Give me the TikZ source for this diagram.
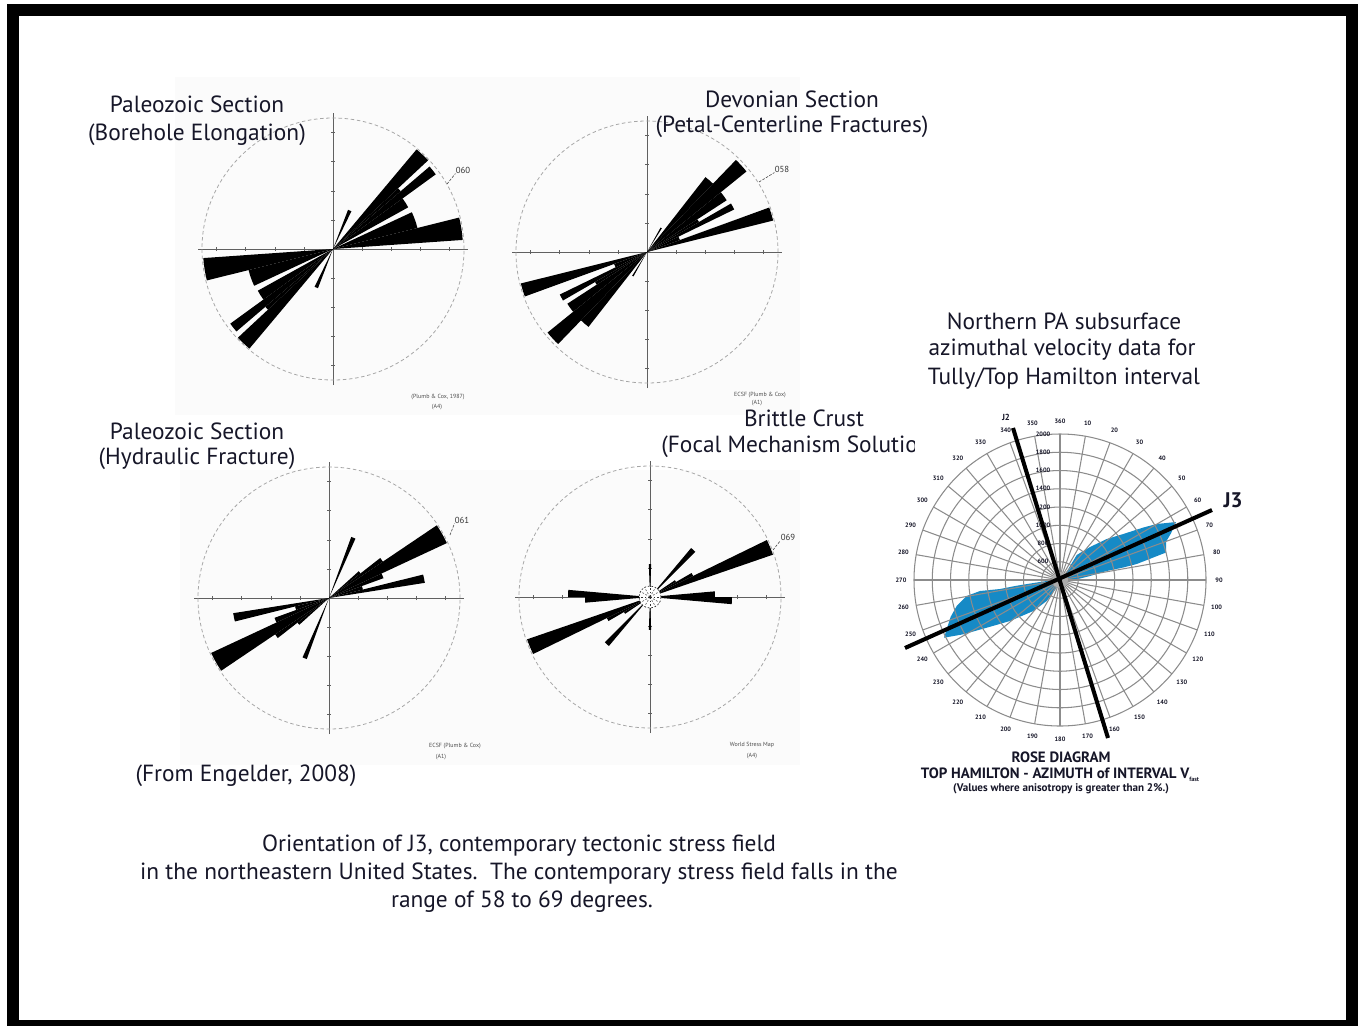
\documentclass[tikz,border=0pt]{standalone}
\usepackage{fontspec}
\setmainfont{PT Sans}
\definecolor{titlec}{RGB}{22,22,40}
\definecolor{lobec}{RGB}{22,138,198}
\definecolor{bgc}{RGB}{251,251,251}
\newcommand\petal[3]{%
  \fill[black] (0,0) -- (#1:#3) arc[start angle=#1,end angle=#2,radius=#3] -- cycle;
  \fill[black] (0,0) -- ({#1+180}:#3) arc[start angle={#1+180},end angle={#2+180},radius=#3] -- cycle;}
\newcommand\rosebase[1]{%
  \draw[roseaxis] ({-#1-4},0) -- ({#1+4},0);
  \draw[roseaxis] (0,{-#1-5}) -- (0,{#1+5});
  \foreach \k in {1,2,3,4}{%
    \draw[roseaxis] ({\k*0.222*#1},-2) -- ({\k*0.222*#1},2);
    \draw[roseaxis] ({-\k*0.222*#1},-2) -- ({-\k*0.222*#1},2);
    \draw[roseaxis] (-2,{\k*0.222*#1}) -- (2,{\k*0.222*#1});
    \draw[roseaxis] (-2,{-\k*0.222*#1}) -- (2,{-\k*0.222*#1});}
  \draw[rosering] (0,0) circle[radius=#1];}
\begin{document}
\begin{tikzpicture}[x=0.02cm,y=-0.02cm,
  title/.style={font=\fontsize{13.3}{15}\selectfont, text=titlec, inner sep=0pt, align=center},
  credit/.style={font=\fontsize{3.4}{4}\selectfont, text=gray!60!black, inner sep=0pt},
  degl/.style={font=\fontsize{5}{6}\selectfont, text=gray!40!black, inner sep=0pt},
  roseaxis/.style={draw=gray!75!black, line width=0.35pt},
  rosering/.style={draw=gray!70, line width=0.45pt, dash pattern=on 2pt off 1.5pt},
  leader/.style={draw=gray!60!black, line width=0.35pt, dash pattern=on 1.5pt off 0.8pt},
  gridl/.style={draw=black!45, line width=0.6pt},
  azl/.style={font=\fontsize{3.6}{4}\bfseries\selectfont, text=titlec, inner sep=0pt},
  jline/.style={draw=black, line width=2.3pt},
  rdl/.style={font=\fontsize{8.5}{10}\bfseries\selectfont, text=titlec, inner sep=0pt}]
\useasboundingbox (0,0) rectangle (1362,1025);
\fill[white] (0,0) rectangle (1362,1025);
% faint image backgrounds
\fill[bgc] (175,77) rectangle (480,415);
\fill[bgc] (480,77) rectangle (800,415);
\fill[bgc] (180,470) rectangle (800,765);
% frame
\draw[line width=0.24cm] (13,10) rectangle (1352,1026);

% ---------- rose 1 (top left)
\begin{scope}[shift={(333,249)},yscale=-1]
  \rosebase{131}
  \petal{4}{14}{130}
  \petal{14}{25}{87}
  \petal{29}{36}{86}
  \petal{36}{40.5}{127}
  \petal{40.5}{43}{89}
  \petal{43}{50}{130}
  \petal{64}{69}{42}
\end{scope}
\node[degl] (l060) at (463,170) {060};
\coordinate (t060) at (447,184);
\draw[leader] (t060) -- (l060.south west);

% ---------- rose 2 (top right)
\begin{scope}[shift={(647,252)},yscale=-1]
  \rosebase{131}
  \petal{14}{20}{130}
  \petal{20}{26}{35}
  \petal{26}{30}{97}
  \petal{30}{33}{60}
  \petal{33}{39}{95}
  \petal{39}{46}{128}
  \petal{46}{52}{95}
  \petal{58}{61}{28}
\end{scope}
\node[degl] (l058) at (782,169) {058};
\coordinate (t058) at (759,182);
\draw[leader] (t058) -- (l058.south west);

% ---------- rose 3 (bottom left)
\begin{scope}[shift={(329,598)},yscale=-1]
  \rosebase{131}
  \petal{9}{14}{97}
  \petal{14}{20}{35}
  \petal{20}{25}{58}
  \petal{25}{34}{130}
  \petal{34}{38}{65}
  \petal{38}{42}{40}
  \petal{66}{70}{65}
\end{scope}
\node[degl] (l061) at (462,520) {061};
\coordinate (t061) at (450,535);
\draw[leader] (t061) -- (l061.south west);

% ---------- rose 4 (bottom right)
\begin{scope}[shift={(650,597)},yscale=-1]
  \rosebase{131}
  \petal{19}{26}{130}
  \petal{26}{30}{48}
  \petal{30}{34}{30}
  \petal{45}{50}{64}
  \petal{-5}{0}{82}
  \petal{0}{5}{65}
  \petal{88}{92}{33}
  \fill[white] (0,0) circle[radius=11];
  \draw[gray!40!black, line width=0.4pt, dash pattern=on 1pt off 1pt] (0,0) circle[radius=11];
  \foreach \a in {0,30,...,330}{\draw[gray!40!black, line width=0.3pt, dash pattern=on 1pt off 1pt] (0,0) -- (\a:11);}
\end{scope}
\node[degl] (l069) at (788,537) {069};
\coordinate (t069) at (773,550);
\draw[leader] (t069) -- (l069.south west);

% credits
\node[credit] (cr1a) at (438,397) {(Plumb \& Cox, 1987)};
\node[credit] (cr1b) at (437,407) {(A4)};
\node[credit] (cr2a) at (760,395) {ECSF (Plumb \& Cox)};
\node[credit] (cr2b) at (757,403) {(A1)};
\node[credit] (cr3a) at (455,746) {ECSF (Plumb \& Cox)};
\node[credit] (cr3b) at (441,757) {(A1)};
\node[credit] (cr4a) at (752,745) {World Stress Map};
\node[credit] (cr4b) at (752,756) {(A4)};

% titles
\node[title] (pz1a) at (197,104) {Paleozoic Section};
\node[title] (pz1b) at (197,135) {(Borehole Elongation)};
\node[title] (dv1a) at (792,99) {Devonian Section};
\node[title] (dv1b) at (792,127) {(Petal-Centerline Fractures)};
\node[title] (pz2a) at (197,431) {Paleozoic Section};
\node[title] (pz2b) at (197,459) {(Hydraulic Fracture)};
\node[title] (bc1) at (804,418) {Brittle Crust};
\begin{scope}
  \clip (640,430) rectangle (914,470);
  \node[title, anchor=west] (bc2) at (661,447) {(Focal Mechanism Solutions)};
\end{scope}
\node[title] (from) at (246,776) {(From Engelder, 2008)};
\node[title] (cap1) at (519,846) {Orientation of J3, contemporary tectonic stress field};
\node[title] (cap2) at (519,874) {in the northeastern United States.\ \ The contemporary stress field falls in the};
\node[title] (cap3) at (522,902) {range of 58 to 69 degrees.};
\node[title] (np1) at (1064,321) {Northern PA subsurface};
\node[title] (np2) at (1062,350) {azimuthal velocity data for};
\node[title] (np3) at (1064,379) {Tully/Top Hamilton interval};

% ---------- right rose diagram
\fill[lobec] (1061.7,580) -- (1076.7,555) -- (1090,547) -- (1106.7,539) -- (1123.3,534)
  -- (1143.3,527.5) -- (1156.7,524) -- (1176,522) -- (1171,533.3) -- (1166,541.7)
  -- (1166,552.5) -- (1153.3,557.5) -- (1136.7,564) -- (1123.3,567.5) -- (1106.7,571)
  -- (1090,576) -- (1070,581) -- cycle;
\fill[lobec] (1053.3,580) -- (1036.7,582.5) -- (1016.7,585.7) -- (1000,589) -- (980,591)
  -- (966.7,596) -- (956.7,606) -- (950.7,616.7) -- (944,637.7) -- (963.3,634.3)
  -- (986.7,627.7) -- (1010,621) -- (1033.3,611) -- (1046.7,601) -- (1056.7,587.7) -- cycle;
\begin{scope}[shift={(1060,580)},yscale=-1]
  \foreach \r in {1,...,8}{\draw[gridl] (0,0) circle[radius=\r*18.25];}
  \foreach \a in {0,10,...,350}{\draw[gridl] (0,0) -- (\a:146);}
  \fill[gray!65] (0,0) circle[radius=8];
  \foreach \a in {10,20,...,360}{\node[azl] (az\a) at ({90-\a}:159) {\a};}
  \foreach \v [count=\i] in {2000,1800,1600,1400,1200,1000,800,600}{%
    \node[azl] (rv\v) at (-17,{146-(\i-1)*18.25}) {\v};}
\end{scope}
\coordinate (j3a) at (905,648);
\coordinate (j3b) at (1212,510);
\coordinate (j2a) at (1013,428);
\coordinate (j2b) at (1108,738);
\draw[jline] (j3a) -- (j3b);
\draw[jline] (j2a) -- (j2b);
\node[font=\fontsize{5}{6}\bfseries\selectfont, text=titlec, inner sep=0pt] (j2l) at (1006,417) {J2};
\node[font=\fontsize{12}{14}\bfseries\selectfont, text=titlec, inner sep=0pt] (j3l) at (1233,500) {J3};
\node[rdl] (rd1) at (1061,757) {ROSE DIAGRAM};
\node[rdl] (rd2) at (1060,775) {TOP HAMILTON - AZIMUTH of INTERVAL V\raisebox{-1.5pt}{\fontsize{3.5}{4}\selectfont fast}};
\node[font=\fontsize{6.3}{7}\bfseries\selectfont, text=titlec, inner sep=0pt] (rd3) at (1061,789) {(Values where anisotropy is greater than 2\%.)};
\end{tikzpicture}
\end{document}
